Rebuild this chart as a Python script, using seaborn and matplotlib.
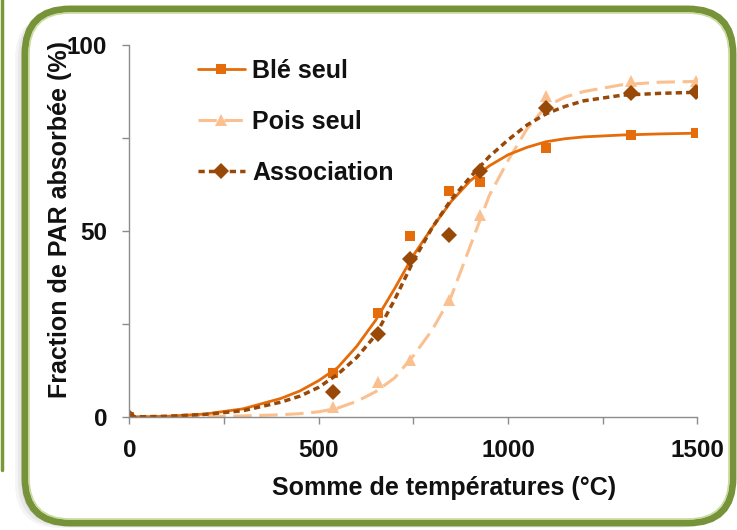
import matplotlib
matplotlib.use("Agg")
import matplotlib.pyplot as plt
from matplotlib.lines import Line2D
from matplotlib.patches import FancyBboxPatch
from matplotlib.ticker import FixedLocator, NullFormatter
import seaborn as sns
import pandas as pd

# measured points (somme de températures, °C)
temp_pts = [0, 538, 656, 740, 845, 925, 1101, 1325, 1496]
ble_pts = [0, 11.8, 27.9, 48.7, 60.8, 63.3, 72.4, 75.8, 76.3]
pois_pts = [0, 2.6, 9.5, 15.3, 31.5, 54.3, 86.3, 90.3, 90.3]
asso_pts = [0, 6.8, 22.3, 42.4, 48.9, 66.2, 83.0, 87.0, 87.4]

# fitted curves
temp_fit = [0, 100, 200, 300, 400, 450, 500, 550, 600, 650, 700, 750, 800, 850,
            900, 950, 1000, 1050, 1100, 1150, 1200, 1300, 1400, 1500]
ble_fit = [0.0, 0.2, 0.8, 2.2, 5.0, 7.0, 9.8, 13.3, 19.0, 26.0, 34.5, 43.5, 51.0, 58.0,
           63.5, 67.5, 70.5, 72.5, 74.0, 74.8, 75.3, 75.8, 76.1, 76.3]
pois_fit = [0.0, 0.0, 0.1, 0.3, 0.6, 0.9, 1.4, 2.4, 4.2, 6.8, 10.5, 16.5, 23.5, 32.5,
            46.0, 59.5, 69.0, 77.5, 83.5, 86.0, 87.5, 89.3, 90.0, 90.2]
asso_fit = [0.0, 0.2, 0.7, 1.7, 4.0, 5.6, 8.0, 11.5, 16.0, 22.0, 31.5, 42.0, 51.0, 58.5,
            64.5, 70.0, 74.5, 78.5, 81.5, 83.5, 85.0, 86.5, 87.0, 87.3]

labels = ["Blé seul", "Pois seul", "Association"]
colors = {"Blé seul": "#E46C0A", "Pois seul": "#FAC090", "Association": "#984807"}

sns.set_style("ticks")
plt.rcParams["font.family"] = ["Liberation Sans", "DejaVu Sans"]
plt.rcParams["font.weight"] = "bold"

fig = plt.figure(figsize=(7.37, 5.30), dpi=100)
fig.patch.set_facecolor("white")

# rounded green frame with a soft shadow
for off, a in [(10, 0.06), (7, 0.08), (4, 0.10)]:
    sh = FancyBboxPatch((0.25 - off / 100, 0.07 - off / 200), 7.08, 5.14,
                        boxstyle="round,pad=0,rounding_size=0.45",
                        transform=fig.dpi_scale_trans, facecolor="#555555",
                        edgecolor="none", alpha=a, zorder=-3)
    fig.add_artist(sh)
frame = FancyBboxPatch((0.25, 0.07), 7.08, 5.14,
                       boxstyle="round,pad=0,rounding_size=0.45",
                       transform=fig.dpi_scale_trans, facecolor="white",
                       edgecolor="#76933A", linewidth=5, zorder=-2)
fig.add_artist(frame)
inner = FancyBboxPatch((0.29, 0.11), 7.00, 5.06,
                       boxstyle="round,pad=0,rounding_size=0.41",
                       transform=fig.dpi_scale_trans, facecolor="none",
                       edgecolor="#C9DB9E", linewidth=1.2, zorder=-1)
fig.add_artist(inner)
fig.add_artist(Line2D([0.02, 0.02], [0.6, 5.3], transform=fig.dpi_scale_trans,
                      color="#7A973A", linewidth=2.5, zorder=-2))

ax = fig.add_axes([0.1757, 0.2132, 0.7707, 0.7019])
ax.patch.set_alpha(0)

fit_df = pd.DataFrame({"temp": temp_fit * 3,
                       "val": pois_fit + ble_fit + asso_fit,
                       "serie": ["Pois seul"] * len(temp_fit) + ["Blé seul"] * len(temp_fit)
                       + ["Association"] * len(temp_fit)})
pts_df = pd.DataFrame({"temp": temp_pts * 3,
                       "val": pois_pts + ble_pts + asso_pts,
                       "serie": ["Pois seul"] * len(temp_pts) + ["Blé seul"] * len(temp_pts)
                       + ["Association"] * len(temp_pts)})

styles = {
    "Pois seul": dict(lw=2.2, dashes=(6, 2.5), marker="^", ms=9),
    "Blé seul": dict(lw=2.0, dashes=None, marker="s", ms=7.5),
    "Association": dict(lw=2.5, dashes=(1.8, 1.2), marker="D", ms=8.5),
}

for name in ["Pois seul", "Blé seul", "Association"]:
    st = styles[name]
    sub = fit_df[fit_df.serie == name]
    sns.lineplot(data=sub, x="temp", y="val", ax=ax, color=colors[name],
                 linewidth=st["lw"], legend=False)
    l = ax.lines[-1]
    if st["dashes"]:
        l.set_dashes(st["dashes"])
    sp = pts_df[pts_df.serie == name]
    ax.plot(sp.temp, sp.val, linestyle="none", marker=st["marker"], ms=st["ms"],
            color=colors[name], markeredgewidth=0)

ax.set_xlim(0, 1500)
ax.set_ylim(0, 100)
ax.set_xticks([0, 500, 1000, 1500])
ax.set_yticks([0, 50, 100])
ax.xaxis.set_minor_locator(FixedLocator([250, 750, 1250]))
ax.yaxis.set_minor_locator(FixedLocator([25, 75]))
ax.xaxis.set_minor_formatter(NullFormatter())
ax.yaxis.set_minor_formatter(NullFormatter())
for s in ["top", "right"]:
    ax.spines[s].set_visible(False)
for s in ["left", "bottom"]:
    ax.spines[s].set_color("#8C8C8C")
    ax.spines[s].set_linewidth(1.0)
ax.tick_params(which="both", direction="out", length=5, width=1, color="#8C8C8C",
               labelsize=17.5, labelcolor="#111111", bottom=True, left=True)
ax.tick_params(axis="y", which="both", pad=11)
ax.tick_params(axis="x", which="both", pad=11)
for t in ax.get_xticklabels() + ax.get_yticklabels():
    t.set_fontweight("bold")

ax.set_xlabel("Somme de températures (°C)", fontsize=18, fontweight="bold",
              color="#111111")
ax.set_ylabel("Fraction de PAR absorbée (%)", fontsize=18, fontweight="bold",
              color="#111111")
ax.xaxis.set_label_coords(0.553, -0.158)
ax.yaxis.set_label_coords(-0.101, 0.53)

handles = []
for name in labels:
    st = styles[name]
    h = Line2D([], [], color=colors[name], linewidth=st["lw"], marker=st["marker"],
               ms=st["ms"], markeredgewidth=0)
    if st["dashes"]:
        h.set_dashes(st["dashes"])
    handles.append(h)
leg = ax.legend(handles, labels, loc="upper left", bbox_to_anchor=(0.12, 0.962),
                frameon=False, borderpad=0, borderaxespad=0, handlelength=1.9,
                handletextpad=0.28, labelspacing=1.08, numpoints=1,
                prop={"weight": "bold", "size": 18})
for t in leg.get_texts():
    t.set_color("#111111")

fig.savefig("out.png", dpi=100)
